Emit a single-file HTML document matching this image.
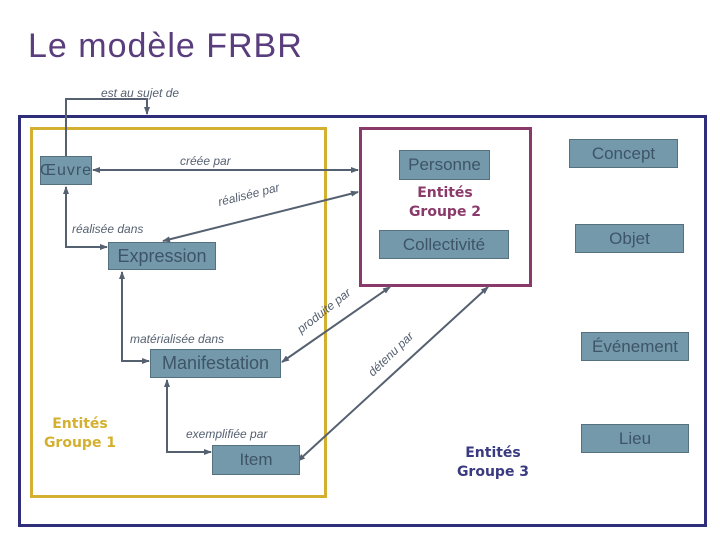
<!DOCTYPE html>
<html><head><meta charset="utf-8"><style>
body{margin:0;width:720px;height:540px;background:#fff;overflow:hidden;font-family:"Liberation Sans",sans-serif}
.b{position:absolute;background:#7499ab;border:1px solid #55707f;color:#3e5468;font-size:17px;text-align:center;box-sizing:border-box;display:flex;align-items:center;justify-content:center}
.t{position:absolute;font-style:italic;font-size:12px;color:#556070;white-space:nowrap}
.g{position:absolute;font-weight:bold;font-size:14px;text-align:center;line-height:19px;font-family:"DejaVu Sans",sans-serif}
</style></head><body>
<div style="position:absolute;left:28px;top:27px;font-size:34px;color:#5a3d7c;letter-spacing:1px">Le modèle FRBR</div>
<svg width="720" height="540" style="position:absolute;left:0;top:0">
<defs><marker id="a" markerWidth="8" markerHeight="8" refX="7" refY="4" orient="auto-start-reverse" markerUnits="userSpaceOnUse"><path d="M0,1 L8,4 L0,7z" fill="#556070"/></marker></defs>
<rect x="19.5" y="116.5" width="686" height="409" fill="none" stroke="#2e2e7a" stroke-width="3"/>
<rect x="31.5" y="128.5" width="294" height="368" fill="none" stroke="#d4b030" stroke-width="3"/>
<rect x="360.5" y="128.5" width="170" height="157" fill="none" stroke="#8a3a6a" stroke-width="3"/>
<g stroke="#556070" stroke-width="2" fill="none">
<polyline points="66,156 66,99 147,99 147,114" marker-end="url(#a)"/>
<line x1="93" y1="170" x2="358" y2="170" marker-start="url(#a)" marker-end="url(#a)"/>
<line x1="163" y1="241" x2="358" y2="192" marker-start="url(#a)" marker-end="url(#a)"/>
<polyline points="66,187 66,247 107,247" marker-start="url(#a)" marker-end="url(#a)"/>
<polyline points="122,272 122,361 149,361" marker-start="url(#a)" marker-end="url(#a)"/>
<polyline points="167,380 167,452 211,452" marker-start="url(#a)" marker-end="url(#a)"/>
<line x1="282" y1="362" x2="390" y2="287" marker-start="url(#a)" marker-end="url(#a)"/>
<line x1="298" y1="461" x2="488" y2="287" marker-start="url(#a)" marker-end="url(#a)"/>
</g></svg>
<div class="t" style="left:101px;top:86px">est au sujet de</div>
<div class="t" style="left:180px;top:154px">créée par</div>
<div class="t" style="left:220px;top:195px;transform:rotate(-14deg);transform-origin:left bottom">réalisée par</div>
<div class="t" style="left:72px;top:222px">réalisée dans</div>
<div class="t" style="left:130px;top:332px">matérialisée dans</div>
<div class="t" style="left:186px;top:427px">exemplifiée par</div>
<div class="t" style="left:303px;top:322px;transform:rotate(-38deg);transform-origin:left bottom">produite par</div>
<div class="t" style="left:375px;top:365px;transform:rotate(-44deg);transform-origin:left bottom">détenu par</div>
<div class="b" style="left:40px;top:156px;width:52px;height:29px;font-size:16px;letter-spacing:1px">Œuvre</div>
<div class="b" style="left:108px;top:242px;width:108px;height:28px;font-size:18px">Expression</div>
<div class="b" style="left:150px;top:349px;width:131px;height:29px;font-size:18px">Manifestation</div>
<div class="b" style="left:212px;top:445px;width:88px;height:30px">Item</div>
<div class="b" style="left:399px;top:150px;width:91px;height:30px">Personne</div>
<div class="b" style="left:379px;top:230px;width:130px;height:29px">Collectivité</div>
<div class="b" style="left:569px;top:139px;width:109px;height:29px">Concept</div>
<div class="b" style="left:575px;top:224px;width:109px;height:29px">Objet</div>
<div class="b" style="left:581px;top:332px;width:108px;height:29px">Événement</div>
<div class="b" style="left:581px;top:424px;width:108px;height:29px">Lieu</div>
<div class="g" style="left:390px;top:184px;width:110px;color:#8a3a6a">Entités<br>Groupe 2</div>
<div class="g" style="left:30px;top:415px;width:100px;color:#d4b030">Entités<br>Groupe 1</div>
<div class="g" style="left:438px;top:444px;width:110px;color:#3a3a80">Entités<br>Groupe 3</div>
</body></html>
